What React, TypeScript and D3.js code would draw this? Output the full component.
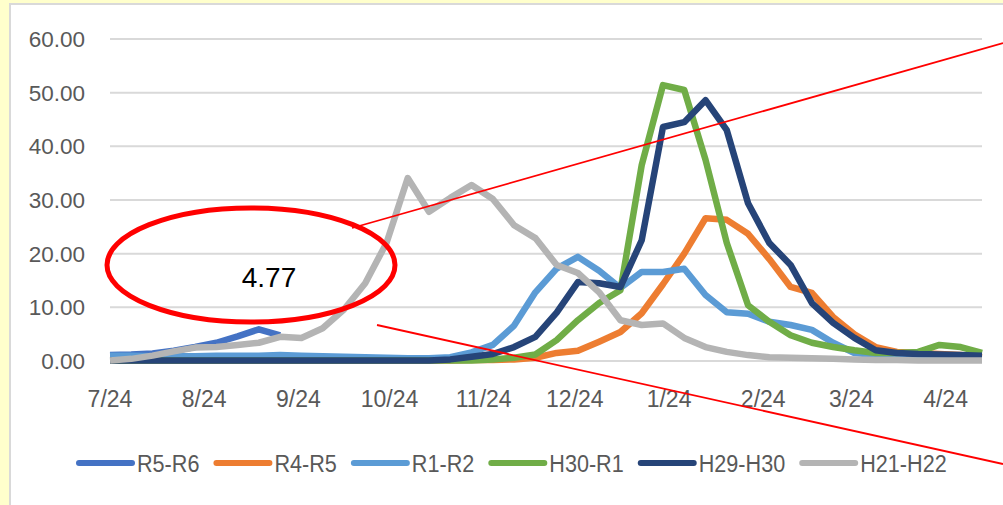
import React, { useEffect, useRef } from 'react';
import * as d3 from 'd3';

// weekly points, first week starts 7/24
const startDate = '2023-07-24';
const weekCount = 42;

const tickDates = ['2023-07-24', '2023-08-24', '2023-09-24', '2023-10-24', '2023-11-24', '2023-12-24', '2024-01-24', '2024-02-24', '2024-03-24', '2024-04-24'];
const tickLabels = ['7/24', '8/24', '9/24', '10/24', '11/24', '12/24', '1/24', '2/24', '3/24', '4/24'];
const yTicks = [0, 10, 20, 30, 40, 50, 60];

const seriesNames = ['R5-R6', 'R4-R5', 'R1-R2', 'H30-R1', 'H29-H30', 'H21-H22'];
const seriesColors = ['#4472C4', '#ED7D31', '#5B9BD5', '#70AD47', '#264478', '#B4B4B4'];

const r5r6 = [1.1, 1.2, 1.4, 1.9, 2.6, 3.4, 4.6, 5.9, 4.77];
const r4r5 = [0.1, 0.1, 0.1, 0.1, 0.1, 0.1, 0.1, 0.1, 0.1, 0.1, 0.1, 0.1, 0.1, 0.1, 0.1, 0.1, 0.1, 0.2, 0.2, 0.3, 0.6, 1.5, 1.9, 3.6, 5.4, 8.9, 14.3, 20.0, 26.6, 26.3, 23.7, 19.0, 13.8, 12.7, 8.2, 5.0, 2.6, 1.7, 1.5, 1.3, 1.1, 0.7];
const r1r2 = [1.0, 1.0, 0.9, 0.9, 0.9, 1.0, 1.0, 1.0, 1.1, 1.0, 0.9, 0.8, 0.7, 0.6, 0.5, 0.5, 0.7, 1.6, 3.0, 6.6, 12.8, 17.2, 19.4, 16.8, 13.6, 16.6, 16.6, 17.2, 12.3, 9.1, 8.8, 7.3, 6.7, 5.8, 3.4, 1.5, 1.1, 0.7, 0.5, 0.4, 0.3, 0.3];
const h30r1 = [0.1, 0.1, 0.1, 0.1, 0.1, 0.1, 0.1, 0.1, 0.1, 0.1, 0.1, 0.1, 0.1, 0.1, 0.1, 0.1, 0.1, 0.1, 0.3, 0.6, 1.2, 3.9, 7.6, 10.8, 13.2, 36.5, 51.4, 50.5, 37.5, 22.0, 10.4, 7.3, 4.8, 3.4, 2.6, 2.0, 1.5, 1.5, 1.7, 3.0, 2.6, 1.5];
const h29h30 = [0.1, 0.1, 0.1, 0.1, 0.1, 0.1, 0.1, 0.1, 0.1, 0.1, 0.1, 0.1, 0.1, 0.1, 0.1, 0.1, 0.3, 0.8, 1.3, 2.6, 4.5, 9.0, 14.7, 14.5, 13.8, 22.5, 43.6, 44.5, 48.6, 43.0, 29.4, 22.0, 17.9, 10.8, 7.1, 4.3, 2.0, 1.5, 1.3, 1.2, 1.1, 1.0];
const h21h22 = [0.1, 0.4, 1.0, 1.8, 2.5, 2.6, 3.0, 3.4, 4.5, 4.3, 6.1, 9.6, 14.5, 22.0, 34.1, 27.8, 30.4, 32.8, 30.2, 25.3, 22.9, 17.9, 16.4, 12.8, 7.6, 6.7, 7.0, 4.3, 2.6, 1.7, 1.1, 0.7, 0.6, 0.5, 0.4, 0.3, 0.2, 0.2, 0.1, 0.1, 0.1, 0.1];

const seriesValues = [r5r6, r4r5, r1r2, h30r1, h29h30, h21h22];
const calloutText = '4.77';

const W = 1003;
const H = 505;

export default function App() {
  const svgRef = useRef<SVGSVGElement>(null);

  useEffect(() => {
    if (!svgRef.current) return;
    const svg = d3.select(svgRef.current);
    svg.selectAll('*').remove();

    const font = '"Liberation Sans", Arial, sans-serif';
    const textColor = '#595959';

    // page + chart frame
    svg.append('rect').attr('width', W).attr('height', H).attr('fill', '#FFFFCC');
    svg.append('rect')
      .attr('x', 10).attr('y', 4).attr('width', W + 20).attr('height', H + 20)
      .attr('fill', '#ffffff').attr('stroke', '#D9D9D9').attr('stroke-width', 2);

    const parse = d3.timeParse('%Y-%m-%d');
    const start = parse(startDate) as Date;
    const dates = d3.range(weekCount).map(i => d3.timeDay.offset(start, i * 7));

    const x = d3.scaleTime()
      .domain([dates[0], dates[dates.length - 1]])
      .range([110, 982]);
    const y = d3.scaleLinear().domain([0, 60]).range([361, 39]);

    // grid
    const grid = svg.append('g');
    grid.selectAll('line')
      .data(yTicks)
      .enter()
      .append('line')
      .attr('x1', 110).attr('x2', 982)
      .attr('y1', d => y(d)).attr('y2', d => y(d))
      .attr('stroke', '#D9D9D9').attr('stroke-width', 2);

    // y labels
    svg.append('g')
      .selectAll('text')
      .data(yTicks)
      .enter()
      .append('text')
      .attr('x', 85)
      .attr('y', d => y(d))
      .attr('dy', '0.36em')
      .attr('text-anchor', 'end')
      .attr('font-family', font)
      .attr('font-size', 22.5)
      .attr('fill', textColor)
      .text(d => d.toFixed(2));

    // x labels
    svg.append('g')
      .selectAll('text')
      .data(tickDates)
      .enter()
      .append('text')
      .attr('x', d => x(parse(d) as Date))
      .attr('y', 407)
      .attr('text-anchor', 'middle')
      .attr('font-family', font)
      .attr('font-size', 23)
      .attr('fill', textColor)
      .text((d, i) => tickLabels[i]);

    // lines
    const line = d3.line<number>()
      .x((d, i) => x(dates[i]))
      .y(d => y(d));

    svg.append('g')
      .selectAll('path')
      .data(seriesValues)
      .enter()
      .append('path')
      .attr('d', d => line(d))
      .attr('fill', 'none')
      .attr('stroke', (d, i) => seriesColors[i])
      .attr('stroke-width', 6.5)
      .attr('stroke-linejoin', 'round');

    // legend
    const legend = svg.append('g').attr('transform', 'translate(76,463)');
    const sx = 0.92;
    let lx = 0;
    seriesNames.forEach((name, i) => {
      const item = legend.append('g').attr('transform', `translate(${lx},0)`);
      item.append('line')
        .attr('x1', 3).attr('x2', 56).attr('y1', 0).attr('y2', 0)
        .attr('stroke', seriesColors[i]).attr('stroke-width', 6)
        .attr('stroke-linecap', 'round');
      const t = item.append('text')
        .attr('transform', `translate(61,9) scale(${sx},1)`)
        .attr('font-family', font)
        .attr('font-size', 23.5)
        .attr('fill', textColor)
        .text(name);
      const tw = (t.node() as SVGTextElement).getComputedTextLength() * sx;
      lx += 61 + tw + 14;
    });

    // red callout overlay
    svg.append('ellipse')
      .attr('cx', 251).attr('cy', 265).attr('rx', 144).attr('ry', 57)
      .attr('fill', 'none').attr('stroke', '#FF0000').attr('stroke-width', 5);
    svg.append('text')
      .attr('x', 269).attr('y', 287)
      .attr('text-anchor', 'middle')
      .attr('font-family', font)
      .attr('font-size', 28)
      .attr('fill', '#000000')
      .text(calloutText);
    svg.append('line')
      .attr('x1', 352).attr('y1', 228).attr('x2', 1003).attr('y2', 43)
      .attr('stroke', '#FF0000').attr('stroke-width', 1.8);
    svg.append('line')
      .attr('x1', 377).attr('y1', 325).attr('x2', 1003).attr('y2', 464)
      .attr('stroke', '#FF0000').attr('stroke-width', 1.8);
  }, []);

  return (
    <svg
      ref={svgRef}
      width={W}
      height={H}
      style={{ position: 'absolute', left: 0, top: 0, display: 'block' }}
    />
  );
}
